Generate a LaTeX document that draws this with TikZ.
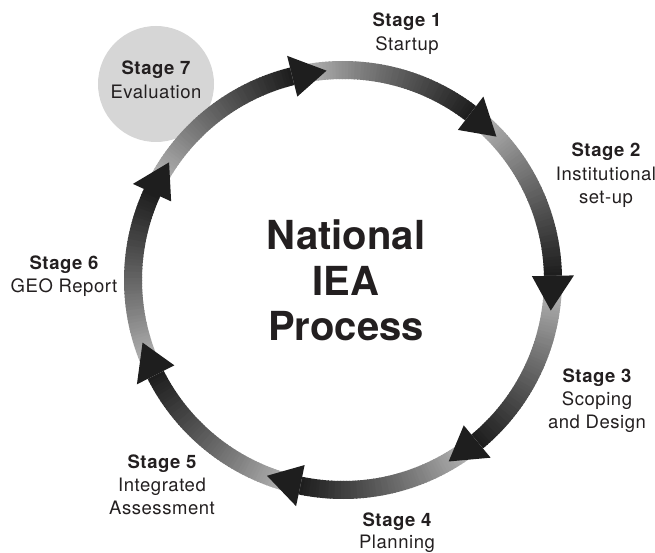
\documentclass[tikz,border=0pt]{standalone}
\usepackage{fontspec}
\setmainfont{TeX Gyre Heros}
\usetikzlibrary{positioning}

\definecolor{ringlight}{HTML}{CBCBCB}
\definecolor{ringdark}{HTML}{1E1E1E}
\definecolor{evalfill}{HTML}{D6D6D6}
\definecolor{txt}{HTML}{231F20}

\tikzset{
  stagehd/.style={font=\fontsize{18.5}{20}\selectfont\bfseries\addfontfeature{LetterSpace=3},
    text=txt, inner sep=0pt, text height=13pt, text depth=4pt, anchor=base},
  stagetx/.style={font=\fontsize{18.5}{20}\selectfont\addfontfeature{LetterSpace=3},
    text=txt, inner sep=0pt, text height=13pt, text depth=4pt},
  titletx/.style={font=\fontsize{40}{45}\selectfont\bfseries, text=txt,
    inner sep=0pt, text height=29pt, text depth=0pt},
}

\begin{document}
\begin{tikzpicture}[x=1pt, y=1pt]
      \useasboundingbox (0,0) rectangle (655,552);%
      \coordinate (O) at (343,272);%

      % stage 7 disc, under the ring
      \fill [evalfill] (156,468) circle [radius=58];%

      % ring: seven shaded arcs, each starting under the previous head
      \foreach \k in {0,...,6} {%
        \pgfmathsetmacro\tip{94.5-51.43*\k}%
        \foreach \i in {0,...,59} {%
          \pgfmathsetmacro\aa{\tip+60.93-\i*0.857}%
          \pgfmathsetmacro\bb{\aa-1.1}%
          \pgfmathtruncatemacro\pct{100*(\i/59)^0.8}%
          \fill [ringdark!\pct!ringlight] ([shift={(\aa:201)}]O)
            arc [start angle=\aa, end angle=\bb, radius=201]
            -- ([shift={(\bb:219)}]O)
            arc [start angle=\bb, end angle=\aa, radius=219] -- cycle;%
        }
      }
      % arrow heads
      \foreach \k in {0,...,6} {%
        \pgfmathsetmacro\tip{94.5-51.43*\k}%
        \fill [ringdark] ([shift={(\tip:210)}]O) -- ([shift={(\tip+9.5:189)}]O)
          -- ([shift={(\tip+9.5:231)}]O) -- cycle;%
      }

      % title
      \node [titletx, anchor=base] (T1) at (346,302) {National};%
      \node [titletx, below=16pt of T1] (T2) {IEA};%
      \node [titletx, below=16pt of T2] (T3) {Process};%

      % stage 1
      \node [stagehd] (S1) at (407,525) {Stage 1};%
      \node [stagetx, below=6pt of S1] (S1a) {Startup};%
      % stage 2
      \node [stagehd] (S2) at (606,395) {Stage 2};%
      \node [stagetx, below=6pt of S2] (S2a) {Institutional};%
      \node [stagetx, below=6pt of S2a] (S2b) {set-up};%
      % stage 3
      \node [stagehd] (S3) at (597,170) {Stage 3};%
      \node [stagetx, below=6pt of S3] (S3a) {Scoping};%
      \node [stagetx, below=6pt of S3a] (S3b) {and Design};%
      % stage 4
      \node [stagehd] (S4) at (397,26) {Stage 4};%
      \node [stagetx, below=5pt of S4] (S4a) {Planning};%
      % stage 5
      \node [stagehd] (S5) at (162,84) {Stage 5};%
      \node [stagetx, below=6pt of S5] (S5a) {Integrated};%
      \node [stagetx, below=6pt of S5a] (S5b) {Assessment};%
      % stage 6
      \node [stagehd] (S6) at (64,283) {Stage 6};%
      \node [stagetx, below=6pt of S6] (S6a) {GEO Report};%
      % stage 7
      \node [stagehd] (S7) at (156,477) {Stage 7};%
      \node [stagetx, below=6pt of S7] (S7a) {Evaluation};%
\end{tikzpicture}
\end{document}
